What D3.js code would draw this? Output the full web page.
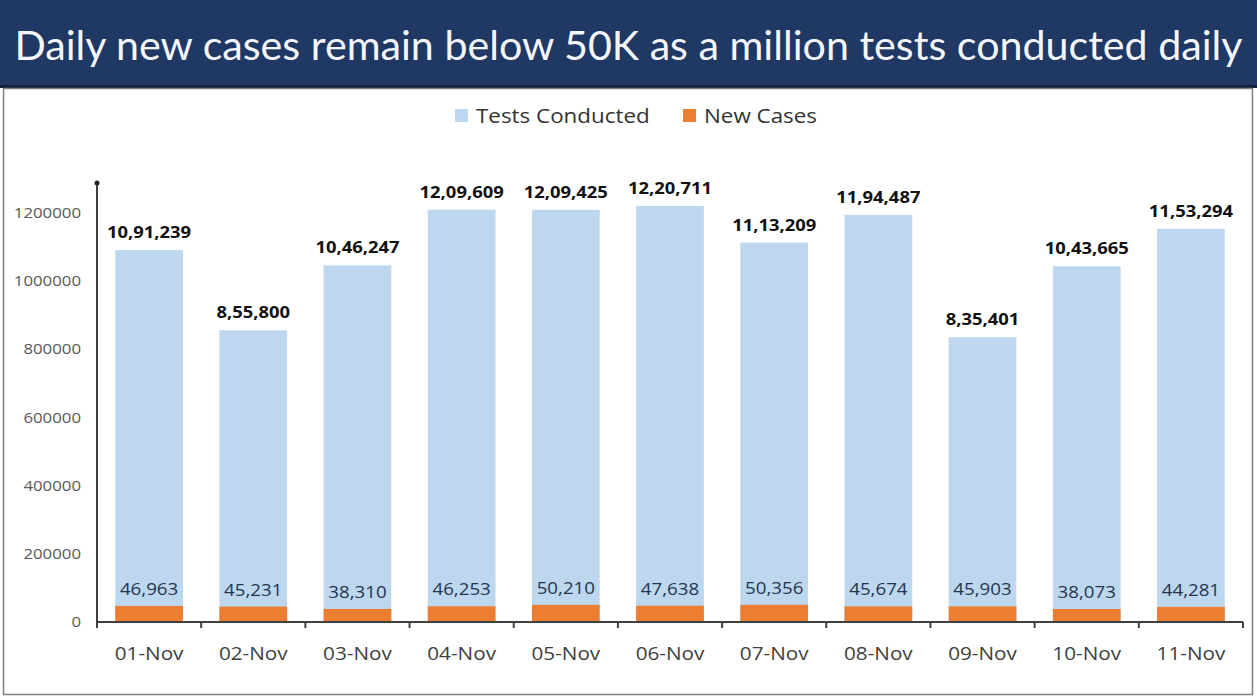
<!DOCTYPE html>
<html><head><meta charset="utf-8">
<script src="https://cdn.jsdelivr.net/npm/d3@7"></script>
<style>html,body{margin:0;padding:0;background:#fff;}svg{display:block;}</style>
</head><body>
<svg id="c" width="1257" height="698"></svg>
<script>
const categories = ["01-Nov","02-Nov","03-Nov","04-Nov","05-Nov","06-Nov","07-Nov","08-Nov","09-Nov","10-Nov","11-Nov"];
const testsConducted = [1091239, 855800, 1046247, 1209609, 1209425, 1220711, 1113209, 1194487, 835401, 1043665, 1153294];
const newCases = [46963, 45231, 38310, 46253, 50210, 47638, 50356, 45674, 45903, 38073, 44281];
const yTicks = [0, 200000, 400000, 600000, 800000, 1000000, 1200000];
const seriesNames = ["Tests Conducted", "New Cases"];
const title = "Daily new cases remain below 50K as a million tests conducted daily";

const svg = d3.select("#c");
const W = 1257, H = 698;
const tfont = "Lato, 'Open Sans', sans-serif";
const font = "'Open Sans', Lato, sans-serif";

// helper: text placed at (x,y) with horizontal stretch
function place(sel, fx, fy, sx){
  sel.attr("x",0).attr("y",0).attr("transform",(d,i)=>`translate(${fx(d,i)},${fy(d,i)}) scale(${sx},1)`);
}

// title band
svg.append("rect").attr("x",0).attr("y",0).attr("width",W).attr("height",88).attr("fill","#1f3864");
svg.append("rect").attr("x",0).attr("y",85).attr("width",W).attr("height",3).attr("fill","#14203a");
svg.append("text").attr("x",W/2).attr("y",60).attr("text-anchor","middle")
  .attr("fill","#f4f6fb").attr("font-family",tfont).attr("font-size",41.2)
  .text(title);

// frame
svg.append("rect").attr("x",3.5).attr("y",88.5).attr("width",1249).attr("height",606)
  .attr("fill","none").attr("stroke","#7f7f7f").attr("stroke-width",1.5);

const x = d3.scaleBand().domain(categories).range([97,1243]).paddingInner(0.35).paddingOuter(0.175);
const y = d3.scaleLinear().domain([0,1200000]).range([622,213]);

// y axis
const yTop = 183;
svg.append("line").attr("x1",97).attr("x2",97).attr("y1",yTop).attr("y2",622).attr("stroke","#404040").attr("stroke-width",2);
svg.append("circle").attr("cx",97).attr("cy",yTop).attr("r",2.5).attr("fill","#222");
place(svg.append("g").selectAll("text").data(yTicks).join("text")
  .attr("text-anchor","end")
  .attr("fill","#595959").attr("font-family",font).attr("font-size",14)
  .text(d=>d3.format("d")(d)), d=>81, d=>y(d)+5, 1.2);

function indian(n){
  const s = String(n);
  if (s.length <= 3) return s;
  const last3 = s.slice(-3);
  let rest = s.slice(0,-3);
  const parts = [];
  while (rest.length > 2){ parts.unshift(rest.slice(-2)); rest = rest.slice(0,-2); }
  if (rest.length) parts.unshift(rest);
  return parts.join(",") + "," + last3;
}

// blue bars
svg.append("g").selectAll("rect").data(categories).join("rect")
  .attr("x",d=>x(d)).attr("width",x.bandwidth())
  .attr("y",(d,i)=>y(testsConducted[i])).attr("height",(d,i)=>622-y(testsConducted[i]))
  .attr("fill","#bdd7ee");
// orange bars
svg.append("g").selectAll("rect").data(categories).join("rect")
  .attr("x",d=>x(d)).attr("width",x.bandwidth())
  .attr("y",(d,i)=>y(newCases[i])).attr("height",(d,i)=>622-y(newCases[i]))
  .attr("fill","#ed7d31");

// x axis
svg.append("line").attr("x1",97).attr("x2",1243).attr("y1",622).attr("y2",622).attr("stroke","#404040").attr("stroke-width",2);
const bounds = d3.range(categories.length+1).map(i=>97 + i*x.step());
svg.append("g").selectAll("line").data(bounds).join("line")
  .attr("x1",d=>d).attr("x2",d=>d).attr("y1",622).attr("y2",628)
  .attr("stroke","#404040").attr("stroke-width",2);
place(svg.append("g").selectAll("text").data(categories).join("text")
  .attr("text-anchor","middle")
  .attr("fill","#404040").attr("font-family",font).attr("font-size",18.5)
  .text(d=>d), d=>x(d)+x.bandwidth()/2, d=>660, 1.12);

// labels
place(svg.append("g").selectAll("text").data(categories).join("text")
  .attr("text-anchor","middle").attr("fill","#111").attr("font-weight","bold")
  .attr("font-family",font).attr("font-size",16)
  .text((d,i)=>indian(testsConducted[i])),
  d=>x(d)+x.bandwidth()/2, (d,i)=>y(testsConducted[i])-12, 1.15);
place(svg.append("g").selectAll("text").data(categories).join("text")
  .attr("text-anchor","middle").attr("fill","#26344f")
  .attr("font-family",font).attr("font-size",16)
  .text((d,i)=>indian(newCases[i])),
  d=>x(d)+x.bandwidth()/2, (d,i)=>y(newCases[i])-11, 1.17);

// legend
const leg = svg.append("g");
const legItems = [{n:seriesNames[0],c:"#bdd7ee",x:455},{n:seriesNames[1],c:"#ed7d31",x:683}];
legItems.forEach(o=>{
  leg.append("rect").attr("x",o.x).attr("y",109).attr("width",13).attr("height",13).attr("fill",o.c);
  leg.append("text").attr("x",0).attr("y",0)
    .attr("transform",`translate(${o.x+21},123) scale(1.12,1)`).attr("fill","#333")
    .attr("font-family",font).attr("font-size",20).text(o.n);
});
</script>
</body></html>
